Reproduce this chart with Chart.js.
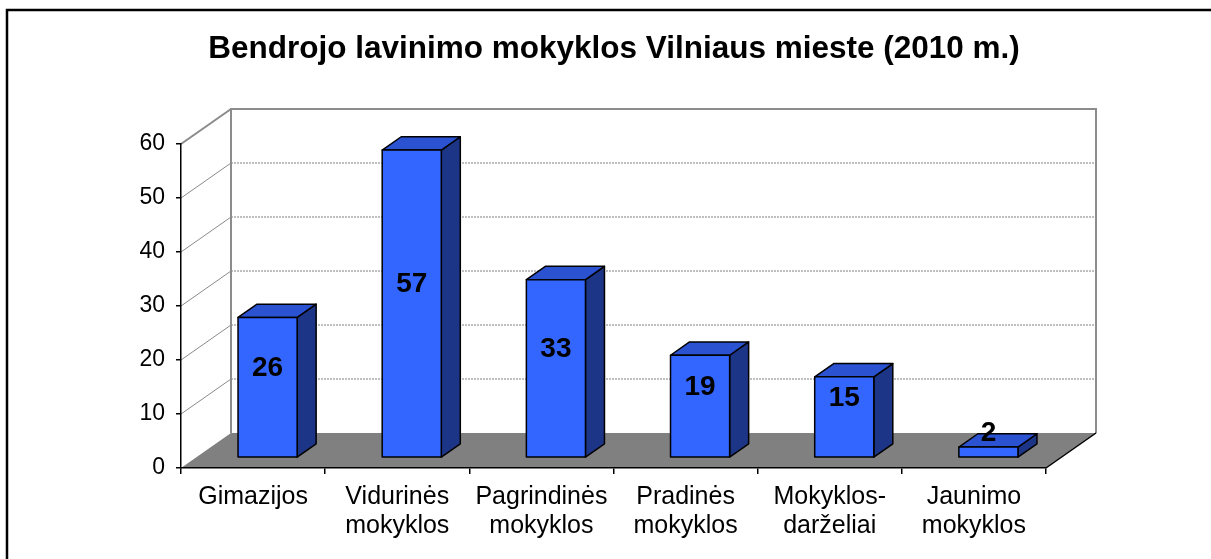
<!DOCTYPE html>
<html>
<head>
<meta charset="utf-8">
<script src="https://cdn.jsdelivr.net/npm/chart.js@4.4.1/dist/chart.umd.min.js"></script>
<style>
  html, body { margin: 0; padding: 0; background: #fff; }
  canvas { display: block; }
</style>
</head>
<body>
<canvas id="chart" width="1211" height="559"></canvas>
<script>
// data
const categories = [
  ['Gimazijos'],
  ['Vidurinės', 'mokyklos'],
  ['Pagrindinės', 'mokyklos'],
  ['Pradinės', 'mokyklos'],
  ['Mokyklos-', 'darželiai'],
  ['Jaunimo', 'mokyklos']
];
const schools = [26, 57, 33, 19, 15, 2];
const yMin = 0, yMax = 60, yStep = 10;
const titleText = 'Bendrojo lavinimo mokyklos Vilniaus mieste (2010 m.)';

const FONT = "'Liberation Sans', Arial, sans-serif";
const DEPTH = { x: 50, y: -35 };       // full depth of the 3d box
const BAR_FRONT = 0.29, BAR_BACK = 0.67; // where the bars sit in depth

function poly(ctx, pts, fill, stroke, lw) {
  ctx.beginPath();
  ctx.moveTo(pts[0][0], pts[0][1]);
  for (let i = 1; i < pts.length; i++) ctx.lineTo(pts[i][0], pts[i][1]);
  ctx.closePath();
  if (fill) { ctx.fillStyle = fill; ctx.fill(); }
  if (stroke) { ctx.strokeStyle = stroke; ctx.lineWidth = lw || 1; ctx.stroke(); }
}

function line(ctx, x1, y1, x2, y2, color, lw, dash) {
  ctx.beginPath();
  ctx.setLineDash(dash || []);
  ctx.moveTo(x1, y1);
  ctx.lineTo(x2, y2);
  ctx.strokeStyle = color;
  ctx.lineWidth = lw;
  ctx.stroke();
  ctx.setLineDash([]);
}

const box3d = {
  id: 'box3d',
  beforeDraw(chart) {
    const ctx = chart.ctx;
    const { left, right, top, bottom } = chart.chartArea;
    const yScale = chart.scales.y;
    const dx = DEPTH.x, dy = DEPTH.y;
    ctx.save();
    ctx.fillStyle = '#fff';
    ctx.fillRect(0, 0, chart.width, chart.height);

    // outer frame (only left and top visible)
    ctx.beginPath();
    ctx.moveTo(7, chart.height + 5);
    ctx.lineTo(7, 10);
    ctx.lineTo(chart.width + 5, 10);
    ctx.strokeStyle = '#000';
    ctx.lineWidth = 2.5;
    ctx.stroke();

    // title, centred on the whole picture
    ctx.fillStyle = '#000';
    ctx.font = 'bold 31.5px ' + FONT;
    ctx.textAlign = 'center';
    ctx.textBaseline = 'middle';
    ctx.fillText(titleText, 614, 49);

    // floor
    poly(ctx, [[left, bottom], [right, bottom], [right + dx, bottom + dy], [left + dx, bottom + dy]], '#808080');

    // gridlines on back wall and left wall
    for (let v = yMin + yStep; v < yMax; v += yStep) {
      const py = yScale.getPixelForValue(v);
      line(ctx, left + dx, py + dy, right + dx, py + dy, '#808080', 1, [2, 1]);
      line(ctx, left, py, left + dx, py + dy, '#8a8a8a', 1);
    }
    const pTop = yScale.getPixelForValue(yMax);
    line(ctx, left, pTop, left + dx, pTop + dy, '#8a8a8a', 2);

    // back wall edges
    ctx.beginPath();
    ctx.moveTo(left + dx, bottom + dy);
    ctx.lineTo(left + dx, pTop + dy);
    ctx.lineTo(right + dx, pTop + dy);
    ctx.lineTo(right + dx, bottom + dy);
    ctx.strokeStyle = '#8c8c8c';
    ctx.lineWidth = 2;
    ctx.stroke();

    // right floor edge
    line(ctx, right, bottom, right + dx, bottom + dy, '#000', 1.5);
    ctx.restore();
  },
  afterDatasetsDraw(chart) {
    const ctx = chart.ctx;
    const meta = chart.getDatasetMeta(0);
    const ds = chart.data.datasets[0];
    const d = (BAR_BACK - BAR_FRONT) * DEPTH.x;
    const e = (BAR_BACK - BAR_FRONT) * DEPTH.y;
    ctx.save();
    ctx.lineJoin = 'round';
    meta.data.forEach((el, i) => {
      const p = el.getProps(['x', 'y', 'base', 'width'], true);
      const fl = p.x - p.width / 2 + DEPTH.x * BAR_FRONT;
      const fr = fl + p.width;
      const ft = p.y + DEPTH.y * BAR_FRONT;
      const fb = p.base + DEPTH.y * BAR_FRONT;
      poly(ctx, [[fr, ft], [fr + d, ft + e], [fr + d, fb + e], [fr, fb]], '#1d3587', '#000', 1.5);
      poly(ctx, [[fl, ft], [fl + d, ft + e], [fr + d, ft + e], [fr, ft]], '#2a52d1', '#000', 1.5);
      poly(ctx, [[fl, ft], [fr, ft], [fr, fb], [fl, fb]], '#3366ff', '#000', 1.5);

      ctx.fillStyle = '#000';
      ctx.font = 'bold 28px ' + FONT;
      ctx.textAlign = 'center';
      ctx.textBaseline = 'middle';
      ctx.fillText(String(ds.data[i]), (fl + fr) / 2, (ft + fb) / 2 - 19);
    });
    ctx.restore();
  }
};

new Chart(document.getElementById('chart'), {
  type: 'bar',
  data: {
    labels: categories,
    datasets: [{
      data: schools,
      backgroundColor: 'rgba(0,0,0,0)',
      borderWidth: 0,
      categoryPercentage: 1,
      barPercentage: 0.41
    }]
  },
  options: {
    responsive: false,
    animation: false,
    layout: { padding: { left: 0, right: 165, top: 144, bottom: 0 } },
    plugins: {
      legend: { display: false },
      tooltip: { enabled: false },
      title: { display: false }
    },
    scales: {
      x: {
        offset: true,
        grid: { display: true, drawOnChartArea: false, offset: true, tickLength: 6, color: '#000', lineWidth: 1.5 },
        border: { display: true, color: '#000', width: 1.5 },
        ticks: { color: '#000', padding: 9, maxRotation: 0, autoSkip: false, font: { family: FONT, size: 25, lineHeight: 1.16 } },
        afterFit(s) { s.height = 91; }
      },
      y: {
        min: yMin,
        max: yMax,
        ticks: { stepSize: yStep, color: '#000', padding: 11, font: { family: FONT, size: 23 } },
        grid: { display: true, drawOnChartArea: false, tickLength: 5, color: '#000', lineWidth: 1.5 },
        border: { display: true, color: '#000', width: 1.5 },
        afterFit(s) { s.width = 181; }
      }
    }
  },
  plugins: [box3d]
});
</script>
</body>
</html>
